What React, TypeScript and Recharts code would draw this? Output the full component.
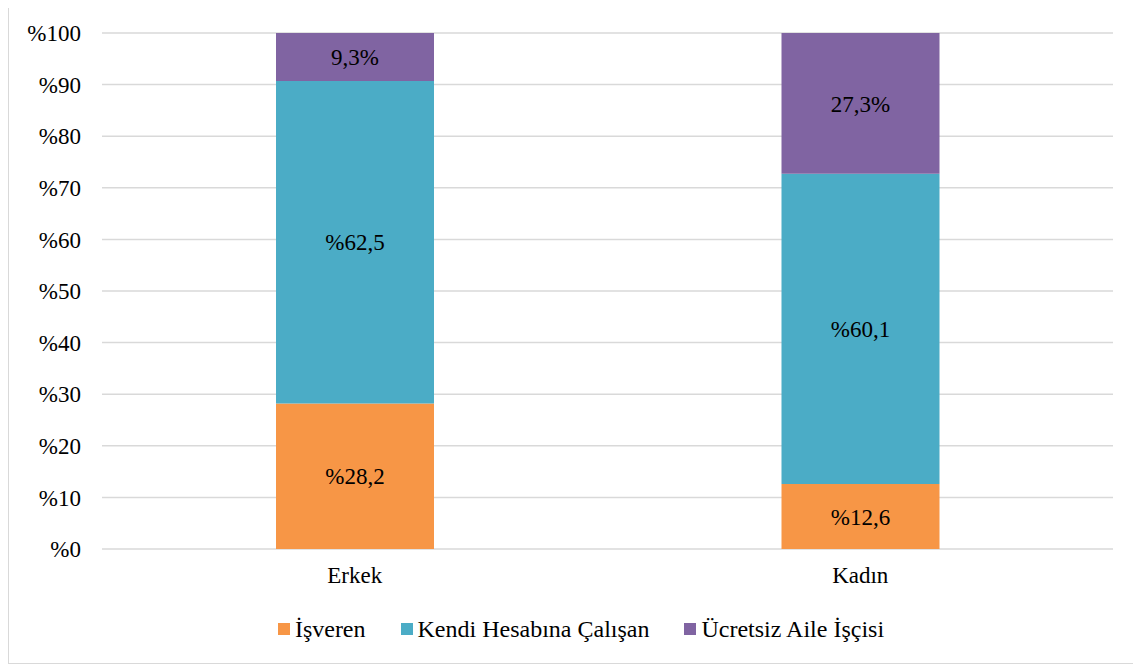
import { BarChart, Bar, XAxis, YAxis, CartesianGrid, Legend, LabelList } from 'recharts';

// categories and series (percent shares)
const categories = ['Erkek', 'Kadın'];
const isveren = [28.2, 12.6];
const kendiHesabina = [62.5, 60.1];
const ucretsizAile = [9.3, 27.3];

// label texts as printed on the bars
const isverenLabels = ['%28,2', '%12,6'];
const kendiHesabinaLabels = ['%62,5', '%60,1'];
const ucretsizAileLabels = ['9,3%', '27,3%'];

const yTicks = [0, 10, 20, 30, 40, 50, 60, 70, 80, 90, 100];

const series = [
  { key: 'isveren', name: 'İşveren', color: '#F79646' },
  { key: 'kendi', name: 'Kendi Hesabına Çalışan', color: '#4BACC6' },
  { key: 'ucretsiz', name: 'Ücretsiz Aile İşçisi', color: '#8064A2' },
];

const data = categories.map((c, i) => ({
  name: c,
  isveren: isveren[i],
  kendi: kendiHesabina[i],
  ucretsiz: ucretsizAile[i],
  isverenLabel: isverenLabels[i],
  kendiLabel: kendiHesabinaLabels[i],
  ucretsizLabel: ucretsizAileLabels[i],
}));

const font = 'Liberation Serif';

function LegendBox() {
  return (
    <div style={{ display: 'flex', justifyContent: 'center', height: 26, paddingLeft: 40, alignItems: 'center', fontFamily: font, fontSize: 24, color: '#000' }}>
      {series.map((s, i) => (
        <div key={s.key} style={{ display: 'flex', alignItems: 'center', marginLeft: i === 0 ? 0 : 35 }}>
          <span style={{ width: 12, height: 12, background: s.color, display: 'inline-block', marginRight: 5 }} />
          <span>{s.name}</span>
        </div>
      ))}
    </div>
  );
}

export default function App() {
  return (
    <div style={{ marginTop: -4, width: 1131, height: 658, border: '1px solid #d9d9d9', background: '#fff', fontFamily: font }}>
      <BarChart
        width={1131}
        height={658}
        data={data}
        margin={{ top: 28, right: 27, left: 0, bottom: 28 }}
        barSize={158}
      >
        <CartesianGrid vertical={false} stroke="#d9d9d9" strokeWidth={1.5} />
        <XAxis
          dataKey="name"
          axisLine={false}
          tickLine={false}
          tickSize={0}
          tickMargin={18}
          height={60}
          tick={{ fill: '#000', fontSize: 23, fontFamily: font }}
        />
        <YAxis
          domain={[0, 100]}
          ticks={yTicks}
          tickFormatter={(v) => `%${v}`}
          axisLine={false}
          tickLine={false}
          tickSize={0}
          tickMargin={21}
          width={93}
          tick={{ fill: '#000', fontSize: 23, fontFamily: font }}
        />
        <Legend verticalAlign="bottom" content={() => <LegendBox />} wrapperStyle={{ bottom: 21 }} />
        {series.map((s) => (
          <Bar key={s.key} dataKey={s.key} name={s.name} stackId="a" fill={s.color} isAnimationActive={false}>
            <LabelList dataKey={`${s.key}Label`} position="center" fill="#000" fontSize={23} fontFamily={font} />
          </Bar>
        ))}
      </BarChart>
    </div>
  );
}
